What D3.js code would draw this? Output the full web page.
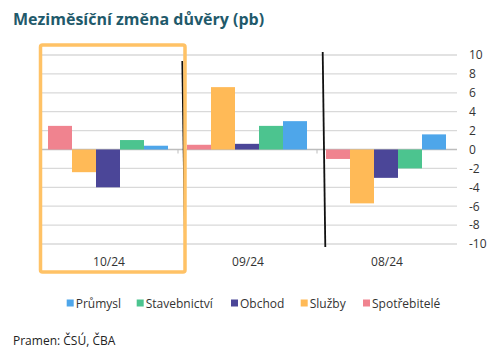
<!DOCTYPE html>
<html>
<head>
<meta charset="utf-8">
<script src="https://cdn.jsdelivr.net/npm/d3@7"></script>
<style>
  body { margin: 0; background: #fff; }
  svg { display: block; font-family: "Open Sans", "Noto Sans", sans-serif; }
</style>
</head>
<body>
<script>
// data
const categories = ['10/24', '09/24', '08/24'];
const series = ['Spotřebitelé', 'Služby', 'Obchod', 'Stavebnictví', 'Průmysl'];
const legendOrder = ['Průmysl', 'Stavebnictví', 'Obchod', 'Služby', 'Spotřebitelé'];
const spotrebitele = [2.5, 0.5, -1.0];
const sluzby = [-2.4, 6.6, -5.7];
const obchod = [-4.0, 0.6, -3.0];
const stavebnictvi = [1.0, 2.5, -2.0];
const prumysl = [0.4, 3.0, 1.6];
const yTicks = [10, 8, 6, 4, 2, 0, -2, -4, -6, -8, -10];

const colors = {
  'Spotřebitelé': '#f0838f',
  'Služby': '#ffba57',
  'Obchod': '#4b4698',
  'Stavebnictví': '#4cc48f',
  'Průmysl': '#4ea6ea'
};

const values = {
  'Spotřebitelé': spotrebitele,
  'Služby': sluzby,
  'Obchod': obchod,
  'Stavebnictví': stavebnictvi,
  'Průmysl': prumysl
};

const width = 500, height = 354;
const plot = {left: 40, right: 457, top: 55, bottom: 244};

const svg = d3.select('body').append('svg')
  .attr('width', width)
  .attr('height', height);

// title
svg.append('text')
  .attr('x', 13)
  .attr('y', 25)
  .attr('fill', '#1f5a6b')
  .attr('font-size', '16px')
  .attr('font-weight', 'bold')
  .text('Meziměsíční změna důvěry (pb)');

// scales
const y = d3.scaleLinear().domain([-10, 10]).range([plot.bottom, plot.top]);
const x0 = d3.scaleBand().domain(categories).range([plot.left, plot.right]);
const x1 = d3.scaleBand().domain(series).range([8, 128]);

// gridlines
svg.append('g').selectAll('line')
  .data(yTicks)
  .join('line')
  .attr('x1', plot.left)
  .attr('x2', plot.right)
  .attr('y1', d => y(d))
  .attr('y2', d => y(d))
  .attr('stroke', d => d === 0 ? '#bdbdbd' : '#d9d9d9')
  .attr('stroke-width', 1.3);

// small ticks at category boundaries
svg.append('g').selectAll('line')
  .data(categories.slice(1))
  .join('line')
  .attr('x1', d => x0(d) - 1)
  .attr('x2', d => x0(d) - 1)
  .attr('y1', y(0))
  .attr('y2', y(0) + 4)
  .attr('stroke', '#bdbdbd');

// y axis on right
const yAxis = d3.axisRight(y)
  .tickValues(yTicks)
  .tickSize(0)
  .tickPadding(12)
  .tickFormat(d => String(d));

const yAxisG = svg.append('g')
  .attr('transform', `translate(${plot.right}, 0)`)
  .call(yAxis);
yAxisG.select('.domain').remove();
yAxisG.selectAll('text')
  .attr('font-size', '12px')
  .attr('fill', '#333')
  .attr('font-family', '"Open Sans", sans-serif');

// bars
const groups = svg.append('g').selectAll('g')
  .data(categories)
  .join('g')
  .attr('transform', d => `translate(${x0(d)}, 0)`);

groups.selectAll('rect')
  .data((c, i) => series.map(s => ({s, v: values[s][i]})))
  .join('rect')
  .attr('x', d => x1(d.s))
  .attr('width', x1.bandwidth())
  .attr('y', d => y(Math.max(0, d.v)))
  .attr('height', d => Math.abs(y(d.v) - y(0)))
  .attr('fill', d => colors[d.s]);

// category labels
svg.append('g').selectAll('text')
  .data(categories)
  .join('text')
  .attr('x', d => x0(d) + 69)
  .attr('y', 266)
  .attr('text-anchor', 'middle')
  .attr('font-size', '12px')
  .attr('fill', '#333')
  .text(d => d);

// hand drawn separators
svg.append('line')
  .attr('x1', 182.3).attr('y1', 61)
  .attr('x2', 185).attr('y2', 240)
  .attr('stroke', '#111').attr('stroke-width', 1.8);
svg.append('line')
  .attr('x1', 322.7).attr('y1', 52)
  .attr('x2', 325.3).attr('y2', 247)
  .attr('stroke', '#111').attr('stroke-width', 1.8);

// orange highlight frame
svg.append('rect')
  .attr('x', 40.5)
  .attr('y', 45)
  .attr('width', 144.5)
  .attr('height', 227)
  .attr('rx', 2)
  .attr('fill', 'none')
  .attr('stroke', '#ffc266')
  .attr('stroke-width', 3.5);

// legend
const legendX = [66.7, 136.7, 231, 300.7, 363];
const legend = svg.append('g').selectAll('g')
  .data(legendOrder)
  .join('g')
  .attr('transform', (d, i) => `translate(${legendX[i]}, 303)`);
legend.append('rect')
  .attr('x', 0).attr('y', -3.5)
  .attr('width', 7).attr('height', 7)
  .attr('fill', d => colors[d]);
legend.append('text')
  .attr('x', 9)
  .attr('y', 4.5)
  .attr('font-size', '12px')
  .attr('fill', '#333')
  .text(d => d);

// source
svg.append('text')
  .attr('x', 13)
  .attr('y', 345)
  .attr('font-size', '12px')
  .attr('fill', '#222')
  .text('Pramen: ČSÚ, ČBA');
</script>
</body>
</html>
